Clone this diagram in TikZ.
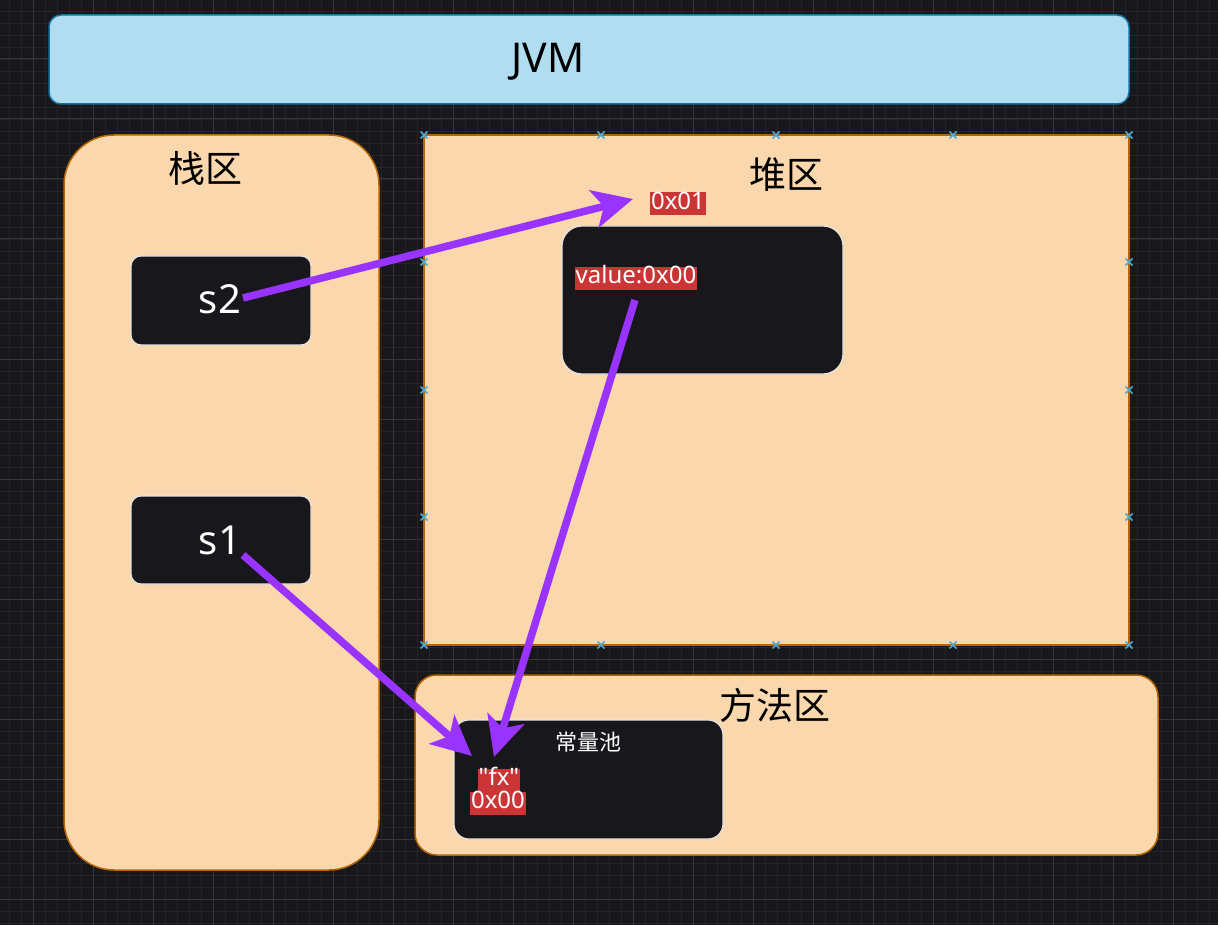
\documentclass[tikz,border=0pt]{standalone}
\usepackage{fontspec}
\setmainfont{Noto Sans}
\newfontfamily\cjk{Noto Sans CJK SC}
\newfontfamily\tagfont{Noto Sans}[Ligatures=TeXOff]
\usetikzlibrary{arrows.meta}
\definecolor{bg}{HTML}{18171C}
\definecolor{gridmin}{HTML}{25242A}
\definecolor{gridmaj}{HTML}{36353B}
\definecolor{peach}{HTML}{FAD7AC}
\definecolor{peachline}{HTML}{B46504}
\definecolor{sky}{HTML}{B1DDF0}
\definecolor{skyline}{HTML}{10739E}
\definecolor{darkbox}{HTML}{18171C}
\definecolor{arrowc}{HTML}{9933FF}
\definecolor{tagred}{HTML}{CB3535}
\definecolor{mark}{HTML}{4AAAD6}
\tikzset{
  area/.style={draw=peachline, fill=peach, line width=1.5pt},
  darkcell/.style={draw=white!90!black, fill=darkbox, line width=1.2pt, rounded corners=10pt},
  bigtitle/.style={text=black, font=\cjk\fontsize{37}{40}\selectfont, inner sep=0pt},
  tag/.style={fill=tagred, text=white, font=\tagfont\fontsize{24}{26}\selectfont, inner xsep=1pt, inner ysep=0pt, text height=17pt, text depth=6pt},
  ref/.style={draw=arrowc, line width=7.5pt, -{Stealth[length=40pt,width=38pt,inset=10pt]}},
  hmark/.style={draw=mark, line width=1.6pt}
}
\begin{document}
\begin{tikzpicture}[x=1pt,y=-1pt]
\useasboundingbox (0,0) rectangle (1218,925);
\fill[bg] (0,0) rectangle (1218,925);
% grid
\foreach \i in {0,...,101} \draw[gridmin, line width=0.8pt] ({9+12*\i},0) -- ++(0,925);
\foreach \i in {0,...,76} \draw[gridmin, line width=0.8pt] (0,{11+12*\i}) -- ++(1218,0);
\foreach \i in {0,...,19} \draw[gridmaj, line width=1pt] ({33+60*\i},0) -- ++(0,925);
\foreach \i in {0,...,14} \draw[gridmaj, line width=1pt] (0,{59+60*\i}) -- ++(1218,0);

% JVM
\node[draw=skyline, fill=sky, line width=1.5pt, rounded corners=12pt, minimum width=1080pt, minimum height=89pt] (jvm) at (589,59.5) {};
\node[text=black, font=\fontsize{41}{44}\selectfont, inner sep=0pt] (jvmt) at (548,62) {JVM};

% stack area
\node[area, rounded corners=50pt, minimum width=315pt, minimum height=735pt] (stack) at (221.5,502.5) {};
\node[bigtitle] (stackt) at (205,168) {栈区};

% heap area
\node[area, minimum width=705pt, minimum height=510pt] (heap) at (776.5,390) {};
\node[bigtitle] (heapt) at (786,175) {堆区};
\foreach \p in {(424,135),(601,135),(776,135),(953,135),(1129,135),
                (424,262),(424,390),(424,517),(1129,262),(1129,390),(1129,517),
                (424,645),(601,645),(776,645),(953,645),(1129,645)}{
  \draw[hmark] \p ++(-3.5,-3.5) -- ++(7,7);
  \draw[hmark] \p ++(-3.5,3.5) -- ++(7,-7);
}

% method area
\node[area, rounded corners=22pt, minimum width=743pt, minimum height=180pt] (method) at (786.5,765) {};
\node[bigtitle] (methodt) at (775,705) {方法区};

% stack cells
\node[darkcell, minimum width=180pt, minimum height=89pt] (s2) at (221,300.5) {};
\node[text=white, font=\fontsize{40}{42}\selectfont, inner sep=0pt] (s2t) at (220,299) {s2};
\node[darkcell, minimum width=180pt, minimum height=88pt] (s1) at (221,540) {};
\node[text=white, font=\fontsize{40}{42}\selectfont, inner sep=0pt] (s1t) at (220,540) {s1};

% heap object
\node[darkcell, rounded corners=20pt, minimum width=281pt, minimum height=148pt] (obj) at (702.5,300) {};

% constant pool
\node[darkcell, rounded corners=15pt, minimum width=269pt, minimum height=119pt] (pool) at (588.5,779.5) {};
\node[text=white, font=\cjk\fontsize{22}{24}\selectfont, inner sep=0pt] (poolt) at (588,742) {常量池};

% arrows
\coordinate (a1s) at (243,298);
\coordinate (a1e) at (633,199);
\coordinate (a2s) at (635,300);
\coordinate (a2e) at (494,757);
\coordinate (a3s) at (243,555);
\coordinate (a3e) at (472,756);
\draw[ref] (a1s) -- (a1e);
\draw[ref] (a2s) -- (a2e);
\draw[ref] (a3s) -- (a3e);

% red tags
\node[tag] (addr1) at (678,204) {0x01};
\node[tag] (val) at (636,278.5) {value:0x00};
\node[tag] (fx) at (499,780) {"fx"};
\node[tag] (addr0) at (498,803) {0x00};
\end{tikzpicture}
\end{document}
